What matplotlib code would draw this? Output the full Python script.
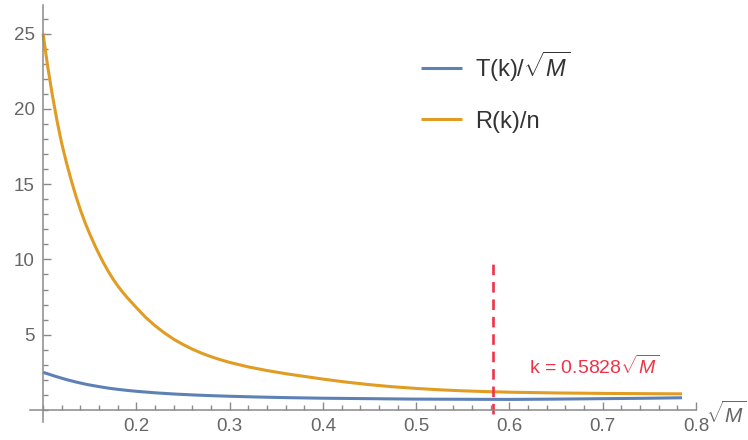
import numpy as np
import matplotlib
matplotlib.use("Agg")
import matplotlib.pyplot as plt
from matplotlib.ticker import MultipleLocator, FixedLocator

plt.rcParams['font.family'] = ['Liberation Sans', 'DejaVu Sans']
plt.rcParams['mathtext.fontset'] = 'custom'
plt.rcParams['mathtext.rm'] = 'Liberation Sans'
plt.rcParams['mathtext.it'] = 'Liberation Sans:italic'

# values
# R(k)/n  (orange)
k_r = [0.100, 0.105, 0.110, 0.115, 0.120, 0.125, 0.130, 0.135, 0.140, 0.145,
       0.150, 0.155, 0.160, 0.165, 0.170, 0.175, 0.180, 0.185, 0.190, 0.200,
       0.210, 0.220, 0.230, 0.240, 0.250, 0.260, 0.270, 0.280, 0.290, 0.300,
       0.320, 0.340, 0.360, 0.380, 0.400, 0.425, 0.450, 0.475, 0.500, 0.525,
       0.550, 0.575, 0.600, 0.650, 0.700, 0.750, 0.785]
r_vals = [25.0, 22.8, 20.9, 19.2, 17.7, 16.45, 15.3, 14.25, 13.3, 12.45,
          11.7, 11.0, 10.35, 9.75, 9.2, 8.7, 8.25, 7.85, 7.48, 6.8,
          6.15, 5.6, 5.12, 4.7, 4.35, 4.04, 3.77, 3.54, 3.34, 3.16,
          2.86, 2.62, 2.41, 2.23, 2.05, 1.85, 1.68, 1.54, 1.43, 1.34,
          1.27, 1.22, 1.18, 1.13, 1.10, 1.08, 1.07]
# T(k)/sqrt(M)  (blue)
k_t = [0.100, 0.105, 0.110, 0.115, 0.120, 0.125, 0.130, 0.135, 0.140, 0.145,
       0.150, 0.160, 0.170, 0.180, 0.190, 0.200, 0.220, 0.240, 0.260, 0.280,
       0.300, 0.330, 0.360, 0.400, 0.450, 0.500, 0.550, 0.600, 0.650, 0.700,
       0.750, 0.785]
t_vals = [2.50, 2.40, 2.30, 2.20, 2.11, 2.02, 1.94, 1.86, 1.79, 1.72,
          1.66, 1.55, 1.45, 1.37, 1.30, 1.24, 1.14, 1.06, 1.00, 0.95,
          0.91, 0.86, 0.82, 0.78, 0.75, 0.72, 0.71, 0.70, 0.72, 0.75,
          0.78, 0.81]
k_mark = 0.5828
mark_top = 10.0
x_ticks = [0.2, 0.3, 0.4, 0.5, 0.6, 0.7, 0.8]
y_ticks = [5, 10, 15, 20, 25]

blue = '#5E81B5'
orange = '#E19C24'
red = '#EE3348'
axis_gray = '#8a8a8a'
label_gray = '#666666'

fig = plt.figure(figsize=(7.48, 4.40), dpi=100)
ax = fig.add_axes([30 / 748, 1 - 422 / 440, 666 / 748, 417 / 440])

ax.plot(k_t, t_vals, color=blue, lw=2.2, label=r'T(k)/$\sqrt{M}$',
        solid_capstyle='butt')
ax.plot(k_r, r_vals, color=orange, lw=2.2, label='R(k)/n',
        solid_capstyle='butt')
ax.plot([k_mark, k_mark], [-0.3, mark_top], color=red, lw=1.9,
        dashes=(4, 2.6))

ax.set_xlim(0.086, 0.8)
ax.set_ylim(-0.8, 26.9)

for s in ['top', 'right']:
    ax.spines[s].set_visible(False)
ax.spines['left'].set_position(('data', 0.1))
ax.spines['bottom'].set_position(('data', 0))
for s in ['left', 'bottom']:
    ax.spines[s].set_color(axis_gray)
    ax.spines[s].set_linewidth(1.1)

ax.xaxis.set_major_locator(FixedLocator(x_ticks))
ax.xaxis.set_minor_locator(MultipleLocator(0.02))
ax.yaxis.set_major_locator(FixedLocator(y_ticks))
ax.yaxis.set_minor_locator(MultipleLocator(1))
ax.tick_params(which='both', direction='in', color=axis_gray, width=1.0,
               labelcolor=label_gray, labelsize=13.5)
ax.tick_params(which='major', length=6)
ax.tick_params(which='minor', length=3.5)
ax.tick_params(axis='x', which='major', pad=6)
ax.tick_params(axis='y', which='major', pad=6)
ax.set_xticklabels([f'{t:.1f}' for t in x_ticks])
ax.set_yticklabels([str(t) for t in y_ticks])

ax.annotate(r'$\sqrt{M}$', xy=(0.8, 0), xytext=(7, -3),
            textcoords='offset points', color=label_gray, fontsize=15,
            ha='left', va='center', annotation_clip=False)

ax.text(0.621, 2.9, r'k = 0.5828$\sqrt{M}$', color=red, fontsize=14,
        ha='left', va='center')

leg = ax.legend(loc='upper left', bbox_to_anchor=(0.555, 0.945), frameon=False,
                fontsize=17, handlelength=1.75, handletextpad=0.55,
                labelspacing=1.15)
for t in leg.get_texts():
    t.set_color('#333333')

fig.savefig('out.png', dpi=100)
